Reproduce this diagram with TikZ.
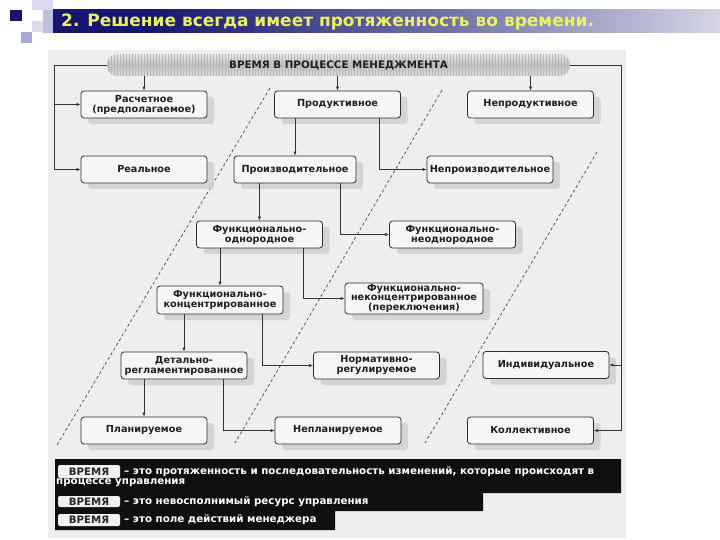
\documentclass[tikz,border=0pt]{standalone}
\usepackage{fontspec}
\setmainfont{DejaVu Sans}
\usetikzlibrary{arrows.meta,shadows,patterns}
\definecolor{panel}{RGB}{238,238,238}
\definecolor{boxfill}{RGB}{246,246,246}
\definecolor{boxline}{RGB}{45,45,45}
\definecolor{navy}{RGB}{22,22,112}
\definecolor{titleyellow}{RGB}{232,242,100}
\definecolor{lav}{RGB}{168,168,214}
\definecolor{lavmid}{RGB}{190,190,225}
\definecolor{lavlight}{RGB}{218,218,236}
\pgfdeclarehorizontalshading{titlebar}{100bp}{color(0bp)=(navy); color(32bp)=(navy); color(55bp)=(navy!60!white); color(80bp)=(navy!8!white); color(100bp)=(white)}
\tikzset{
  diabox/.style={draw=boxline, line width=0.8pt, fill=boxfill, rounded corners=3pt,
    font=\fontsize{9.7}{10}\selectfont\bfseries, text=black!88, align=center,
    inner sep=1pt, minimum height=27pt, minimum width=126pt,
    drop shadow={shadow xshift=7pt, shadow yshift=-6pt, fill=gray!40, draw=none, opacity=0.75}},
  hdrbox/.style={rounded corners=10pt, minimum width=463pt, minimum height=22pt,
    top color=gray!18, bottom color=gray!28, middle color=gray!50,
    font=\fontsize{10.3}{10}\selectfont\bfseries, text=black!88, inner sep=0pt,
    postaction={pattern=vertical lines, pattern color=gray!55}},
  conn/.style={draw=black!80, line width=0.75pt, -{Latex[length=4pt,width=3.2pt]}},
  plainline/.style={draw=black!80, line width=0.75pt},
  divider/.style={draw=black!70, line width=0.7pt, dash pattern=on 3pt off 2.5pt},
  vlabel/.style={fill=gray!12, rounded corners=2pt, minimum width=62pt, inner sep=0pt,
    font=\fontsize{10.2}{10}\selectfont\bfseries, text=black!85},
  wtext/.style={anchor=west, inner sep=0pt, text=white, font=\fontsize{10.3}{10}\selectfont\bfseries},
}
\begin{document}
\begin{tikzpicture}[x=1pt,y=-1pt]
\useasboundingbox (0,0) rectangle (720,540);
\fill[white] (0,0) rectangle (720,540);
% title decoration
\fill[lavlight] (32,0) rectangle (53,10);
\fill[lavmid] (43,10) rectangle (53,33);
\fill[lavlight] (32,21) rectangle (43,32);
\fill[lav] (21,32) rectangle (32,43);
\fill[navy] (10,10) rectangle (22,21);
\shade[shading=titlebar] (53,10) rectangle (720,33);
\node[anchor=west, inner sep=0pt, text=titleyellow, font=\fontsize{17}{18}\selectfont\bfseries] (title) at (61,21.5) {2. Решение всегда имеет протяженность во времени.};
% panel
\fill[panel] (48,50) rectangle (626,538);
% dividers
\coordinate (d1a) at (270,88); \coordinate (d1b) at (57,445);
\coordinate (d2a) at (442,90); \coordinate (d2b) at (235,443);
\coordinate (d3a) at (597,152); \coordinate (d3b) at (425,443);
\draw[divider] (d1a) -- (d1b);
\draw[divider] (d2a) -- (d2b);
\draw[divider] (d3a) -- (d3b);
% header
\node[hdrbox] (hdr) at (338.5,65) {ВРЕМЯ В ПРОЦЕССЕ МЕНЕДЖМЕНТА};
% boxes
\node[diabox] (rasch) at (144,104.5) {Расчетное\\(предполагаемое)};
\node[diabox] (prod) at (337.5,104.5) {Продуктивное};
\node[diabox] (neprod) at (530.5,104.5) {Непродуктивное};
\node[diabox] (real) at (144,169.5) {Реальное};
\node[diabox, minimum width=122pt] (proizv) at (295,169.5) {Производительное};
\node[diabox] (neproizv) at (490,169.5) {Непроизводительное};
\node[diabox] (fodn) at (259.5,234.5) {Функционально-\\однородное};
\node[diabox] (fneodn) at (452.5,234.5) {Функционально-\\неоднородное};
\node[diabox, minimum height=28pt] (fkonc) at (220,300) {Функционально-\\концентрированное};
\node[diabox, minimum width=138pt, minimum height=31pt, font=\fontsize{9.7}{8.8}\selectfont\bfseries] (fnekonc) at (414,298.5) {Функционально-\\неконцентрированное\\(переключения)};
\node[diabox] (detal) at (184,365.5) {Детально-\\регламентированное};
\node[diabox] (norm) at (376.5,365.5) {Нормативно-\\регулируемое};
\node[diabox] (indiv) at (546,365) {Индивидуальное};
\node[diabox] (plan) at (144,430.5) {Планируемое};
\node[diabox] (neplan) at (338,430.5) {Непланируемое};
\node[diabox] (koll) at (530.5,430.5) {Коллективное};
% outer loops
\coordinate (L1) at (54,65);
\coordinate (L2) at (54,169.5);
\coordinate (R1) at (621,65);
\coordinate (R2) at (621,430.5);
\draw[plainline] (hdr.west) -- (L1) -- (L2);
\draw[conn] (L2) -- (real.west);
\draw[conn] (L1 |- rasch.west) -- (rasch.west);
\draw[plainline] (hdr.east) -- (R1) -- (R2);
\draw[conn] (R2) -- (koll.east);
\draw[conn] (R1 |- indiv.east) -- (indiv.east);
% header arrows
\draw[conn] (rasch.north |- hdr.south) -- (rasch.north);
\draw[conn] (prod.north |- hdr.south) -- (prod.north);
\draw[conn] (neprod.north |- hdr.south) -- (neprod.north);
% inner connectors
\draw[conn] (proizv.north |- prod.south) -- (proizv.north);
\draw[conn] ([xshift=41.5pt]prod.south) |- (neproizv.west);
\draw[conn] (fodn.north |- proizv.south) -- (fodn.north);
\draw[conn] ([xshift=45pt]proizv.south) |- (fneodn.west);
\draw[conn] (fkonc.north |- fodn.south) -- (fkonc.north);
\draw[conn] ([xshift=43.5pt]fodn.south) |- (fnekonc.west);
\draw[conn] (detal.north |- fkonc.south) -- (detal.north);
\draw[conn] ([xshift=42pt]fkonc.south) |- (norm.west);
\draw[conn] (plan.north |- detal.south) -- (plan.north);
\draw[conn] ([xshift=39pt]detal.south) |- (neplan.west);
% definitions block
\fill[black!94] (55,459) -- (621,459) -- (621,493) -- (483,493) -- (483,511) -- (335,511) -- (335,530) -- (55,530) -- cycle;
\node[vlabel, minimum height=13pt] (v1) at (89,471.5) {ВРЕМЯ};
\node[vlabel, minimum height=11pt] (v2) at (89,501.5) {ВРЕМЯ};
\node[vlabel, minimum height=12pt] (v3) at (89,520) {ВРЕМЯ};
\node[wtext] (t1) at (124,472) {– это протяженность и последовательность изменений, которые происходят в};
\node[wtext] (t1b) at (56,483) {процессе управления};
\node[wtext] (t2) at (124,501.5) {– это невосполнимый ресурс управления};
\node[wtext] (t3) at (124,520) {– это поле действий менеджера};
\end{tikzpicture}
\end{document}
